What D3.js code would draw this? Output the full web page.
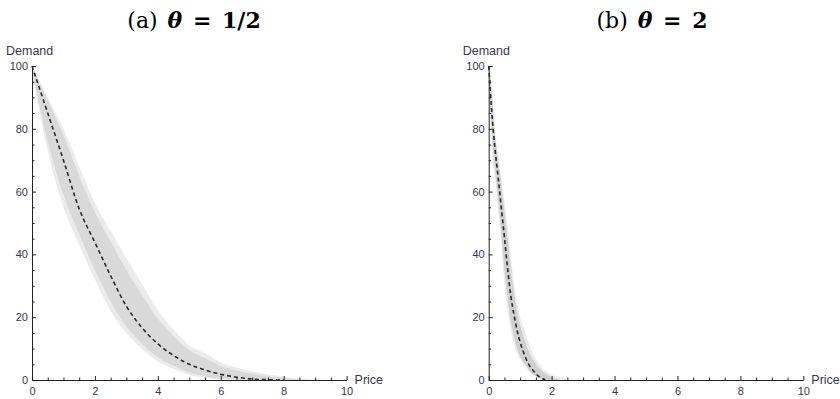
<!DOCTYPE html>
<html>
<head>
<meta charset="utf-8">
<script src="https://cdn.jsdelivr.net/npm/d3@7"></script>
<style>
  body { margin: 0; background: #fff; }
  svg { display: block; }
  .tick text { font-family: "Liberation Sans", Arial, sans-serif; font-size: 11px; fill: #3b3550; }
  .axis path, .axis line { stroke: #222; }
</style>
</head>
<body>
<svg id="chart" width="840" height="399"></svg>
<script>
// panel (a): theta = 1/2
const priceA   = [0, 0.5, 1, 1.5, 2, 2.5, 3, 3.5, 4, 4.5, 5, 5.5, 6, 6.5, 7, 7.5, 8, 8.5, 9, 9.5, 10];
const meanA    = [100, 85, 70, 54.5, 43.8, 33.2, 23.5, 16.6, 11.5, 7.8, 5, 3.2, 1.8, 0.9, 0.3, 0.1, 0, null, null, null, null];
const outerLoA = [98, 73, 55, 43, 32, 22, 15, 9.9, 6, 3.5, 1.6, 0.7, 0.2, 0, 0, 0, 0, 0, 0, 0, 0];
const outerHiA = [100, 90, 80, 68, 56.4, 47.4, 38.9, 30.5, 22.2, 16, 11, 8.5, 5.5, 4, 2.8, 1.8, 1, 0.4, 0.2, 0.1, 0];
const innerLoA = [99, 76, 59, 46.5, 35, 25, 17, 11.5, 7.2, 4.5, 2.4, 1.2, 0.4, 0.1, 0, 0, 0, 0, 0, 0, 0];
const innerHiA = [100, 89, 78, 65, 53.5, 44, 35, 27, 19.5, 14, 9.5, 7, 4.5, 3, 2, 1.2, 0.6, 0.2, 0, 0, 0];

// panel (b): theta = 2
const priceB   = [0, 0.1, 0.2, 0.3, 0.4, 0.5, 0.6, 0.7, 0.8, 0.9, 1, 1.1, 1.2, 1.3, 1.4, 1.5, 1.6, 1.7, 1.8, 1.9, 2, 2.1, 2.2, 2.3, 2.4, 2.5, 2.6];
const meanB    = [100, 85, 73.7, 64.6, 55, 45.5, 35.5, 27, 21, 16, 12, 9, 6.5, 4.5, 3.2, 2, 1.1, 0.5, 0, null, null, null, null, null, null, null, null];
const outerLoB = [98, 74, 64.5, 54.8, 44, 30, 22, 16, 11.5, 8.5, 6.5, 5, 4, 2.5, 1.5, 1, 0.5, 0.2, 0, 0, 0, 0, 0, 0, 0, 0, 0];
const outerHiB = [100, 93, 80, 72, 64.5, 57, 49, 40, 31, 25, 20, 17, 14, 11, 8.5, 6.8, 5.3, 4, 3, 2.2, 1.6, 1.3, 1.1, 0.9, 0.8, 0.3, 0];
const innerLoB = [99, 78, 67, 57, 47, 35, 26, 19, 14, 10, 7.5, 5.8, 4.4, 2.9, 1.8, 1.2, 0.6, 0.2, 0, 0, 0, 0, 0, 0, 0, 0, 0];
const innerHiB = [100, 91, 78, 70, 62, 54, 45, 36, 28, 22, 17.5, 14, 11, 8.5, 6.5, 5, 3.8, 2.8, 2, 1.4, 0.9, 0.5, 0.2, 0, 0, 0, 0];

const xTicks = [0, 2, 4, 6, 8, 10];
const yTicks = [0, 20, 40, 60, 80, 100];
const xMinor = [0.5, 1, 1.5, 2.5, 3, 3.5, 4.5, 5, 5.5, 6.5, 7, 7.5, 8.5, 9, 9.5];
const yMinor = [5, 10, 15, 25, 30, 35, 45, 50, 55, 65, 70, 75, 85, 90, 95];

const svg = d3.select('#chart');

function drawPanel(opt) {
    const x = d3.scaleLinear().domain([0, 10]).range([opt.left, opt.left + 314.6]);
    const y = d3.scaleLinear().domain([0, 100]).range([380, 66]);
    const g = svg.append('g');

    const rows = opt.price.map((p, i) => ({
        p: p, mean: opt.mean[i],
        oLo: opt.outerLo[i], oHi: opt.outerHi[i],
        iLo: opt.innerLo[i], iHi: opt.innerHi[i]
    }));

    // band of simulated demand curves
    const outer = d3.area().curve(d3.curveMonotoneX).x(d => x(d.p)).y0(d => y(d.oLo)).y1(d => y(d.oHi));
    const inner = d3.area().curve(d3.curveMonotoneX).x(d => x(d.p)).y0(d => y(d.iLo)).y1(d => y(d.iHi));
    g.append('path').datum(rows).attr('d', outer).attr('fill', '#ebebeb');
    g.append('path').datum(rows).attr('d', inner).attr('fill', opt.bandColor);

    // minor ticks
    g.append('g').attr('class', 'axis')
        .attr('transform', 'translate(0,380)')
        .call(d3.axisBottom(x).tickValues(xMinor).tickSize(-2.5).tickFormat(''))
        .call(a => a.select('.domain').remove());
    g.append('g').attr('class', 'axis')
        .attr('transform', `translate(${opt.left},0)`)
        .call(d3.axisLeft(y).tickValues(yMinor).tickSize(-2.5).tickFormat(''))
        .call(a => a.select('.domain').remove());

    // major axes
    g.append('g').attr('class', 'axis')
        .attr('transform', 'translate(0,380)')
        .call(d3.axisBottom(x).tickValues(xTicks).tickSize(-4).tickSizeOuter(0).tickPadding(7));
    g.append('g').attr('class', 'axis')
        .attr('transform', `translate(${opt.left},0)`)
        .call(d3.axisLeft(y).tickValues(yTicks).tickSize(-4).tickSizeOuter(0).tickPadding(4));

    // expected demand
    const line = d3.line().curve(d3.curveMonotoneX).defined(d => d.mean != null)
        .x(d => x(d.p)).y(d => y(d.mean));
    g.append('path').datum(rows).attr('d', line)
        .attr('fill', 'none').attr('stroke', '#2a2a2a').attr('stroke-width', 1.6)
        .attr('stroke-dasharray', '4,3');

    // axis labels
    g.append('text').attr('x', opt.left - 26).attr('y', 55)
        .style('font-family', '"Liberation Sans", Arial, sans-serif').style('font-size', '12.5px')
        .attr('fill', '#3b3550').text('Demand');
    g.append('text').attr('x', x(10) + 8).attr('y', 384)
        .style('font-family', '"Liberation Sans", Arial, sans-serif').style('font-size', '12.5px')
        .attr('fill', '#3b3550').text('Price');

    // title
    const t = g.append('text').attr('x', opt.titleX).attr('y', 28)
        .attr('text-anchor', 'middle')
        .style('font-family', '"DejaVu Serif", serif')
        .style('font-size', '22px').style('word-spacing', '3px').attr('fill', '#000');
    t.append('tspan').text(opt.tag + ' ');
    t.append('tspan').style('font-weight', 'bold').style('font-style', 'italic').text('θ');
    t.append('tspan').style('font-weight', 'bold').text(' = ' + opt.theta);
}

drawPanel({ left: 32, titleX: 194, tag: '(a)', theta: '1/2', bandColor: '#d9d9d9',
    price: priceA, mean: meanA, outerLo: outerLoA, outerHi: outerHiA, innerLo: innerLoA, innerHi: innerHiA });
drawPanel({ left: 488.7, titleX: 652, tag: '(b)', theta: '2', bandColor: '#d0d0d0',
    price: priceB, mean: meanB, outerLo: outerLoB, outerHi: outerHiB, innerLo: innerLoB, innerHi: innerHiB });
</script>
</body>
</html>
